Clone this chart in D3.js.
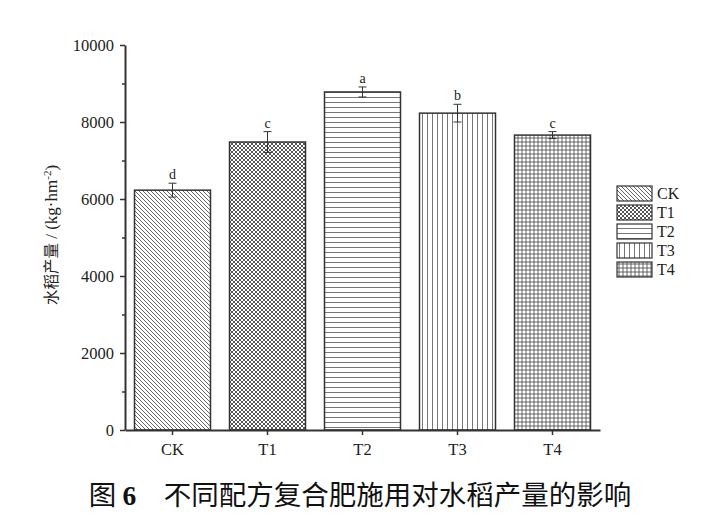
<!DOCTYPE html>
<html>
<head>
<meta charset="utf-8">
<script src="https://cdn.jsdelivr.net/npm/d3@7"></script>
<style>
  body { margin: 0; background: #fff; }
  svg { display: block; }
</style>
</head>
<body>
<svg></svg>
<script>
const svg = d3.select('svg')
    .attr('width', 710)
    .attr('height', 525);

const categories = ['CK', 'T1', 'T2', 'T3', 'T4'];
const yields = [6230, 7480, 8780, 8230, 7660];
const errors = [180, 270, 130, 230, 90];
const letters = ['d', 'c', 'a', 'b', 'c'];
const yTicks = [0, 2000, 4000, 6000, 8000, 10000];
const patternIds = ['pCK', 'pT1', 'pT2', 'pT3', 'pT4'];

const plotLeft = 125, plotRight = 600, plotTop = 45, plotBottom = 430;
const ink = '#333';
const serif = 'Liberation Serif, serif';

const x = d3.scaleBand()
    .domain(categories)
    .range([plotLeft, plotRight])
    .paddingInner(0.2)
    .paddingOuter(0.1);

const y = d3.scaleLinear()
    .domain([0, 10000])
    .range([plotBottom, plotTop]);

// fill patterns
const defs = svg.append('defs');

const p0 = defs.append('pattern').attr('id', 'pCK')
    .attr('patternUnits', 'userSpaceOnUse').attr('width', 4).attr('height', 4);
p0.append('path').attr('d', 'M-1,-1 L5,5 M3,-1 L5,1 M-1,3 L1,5')
    .attr('stroke', '#555').attr('stroke-width', 0.9);

const p1 = defs.append('pattern').attr('id', 'pT1')
    .attr('patternUnits', 'userSpaceOnUse').attr('width', 4).attr('height', 4);
p1.append('path').attr('d', 'M-1,-1 L5,5 M3,-1 L5,1 M-1,3 L1,5 M5,-1 L-1,5 M1,-1 L-1,1 M5,3 L3,5')
    .attr('stroke', '#444').attr('stroke-width', 0.9);

const p2 = defs.append('pattern').attr('id', 'pT2')
    .attr('patternUnits', 'userSpaceOnUse').attr('width', 5).attr('height', 5);
p2.append('line').attr('x1', 0).attr('x2', 5).attr('y1', 2.5).attr('y2', 2.5)
    .attr('stroke', '#666').attr('stroke-width', 0.9);

const p3 = defs.append('pattern').attr('id', 'pT3')
    .attr('patternUnits', 'userSpaceOnUse').attr('width', 5).attr('height', 5);
p3.append('line').attr('y1', 0).attr('y2', 5).attr('x1', 2.5).attr('x2', 2.5)
    .attr('stroke', '#666').attr('stroke-width', 0.9);

const p4 = defs.append('pattern').attr('id', 'pT4')
    .attr('patternUnits', 'userSpaceOnUse').attr('width', 4).attr('height', 4);
p4.append('path').attr('d', 'M0,2 L4,2 M2,0 L2,4')
    .attr('stroke', '#555').attr('stroke-width', 0.9);

// bars
svg.selectAll('rect.bar')
    .data(yields)
    .enter()
    .append('rect')
    .attr('class', 'bar')
    .attr('x', (d, i) => x(categories[i]))
    .attr('y', d => y(d))
    .attr('width', x.bandwidth())
    .attr('height', d => plotBottom - y(d))
    .attr('fill', (d, i) => 'url(#' + patternIds[i] + ')')
    .attr('stroke', ink)
    .attr('stroke-width', 1.5);

// error bars
const cx = i => x(categories[i]) + x.bandwidth() / 2;
const err = svg.append('g').attr('stroke', ink).attr('stroke-width', 1);
yields.forEach((d, i) => {
    const hi = y(d + errors[i]), lo = y(d - errors[i]);
    err.append('line').attr('x1', cx(i)).attr('x2', cx(i)).attr('y1', hi).attr('y2', lo);
    err.append('line').attr('x1', cx(i) - 4).attr('x2', cx(i) + 4).attr('y1', hi).attr('y2', hi);
    err.append('line').attr('x1', cx(i) - 4).attr('x2', cx(i) + 4).attr('y1', lo).attr('y2', lo);
});

// significance letters
svg.selectAll('text.sig')
    .data(letters)
    .enter()
    .append('text')
    .attr('class', 'sig')
    .attr('x', (d, i) => cx(i))
    .attr('y', (d, i) => y(yields[i] + errors[i]) - 4)
    .attr('text-anchor', 'middle')
    .style('font-family', serif)
    .style('font-size', '14px')
    .attr('fill', '#222')
    .text(d => d);

// y axis
svg.append('g')
    .attr('transform', `translate(${plotLeft},0)`)
    .call(d3.axisLeft(y).tickValues(yTicks).tickSize(5).tickSizeOuter(0).tickPadding(6).tickFormat(d3.format('d')));
svg.append('g')
    .attr('transform', `translate(${plotLeft},0)`)
    .call(d3.axisLeft(y).tickValues(d3.range(1000, 10000, 2000)).tickSize(3).tickFormat(''))
    .call(g => g.select('.domain').remove());

// x axis
svg.append('g')
    .attr('transform', `translate(0,${plotBottom})`)
    .call(d3.axisBottom(x).tickSize(5).tickSizeOuter(0).tickPadding(8));

svg.selectAll('.domain').attr('stroke', ink).attr('stroke-width', 2);
svg.selectAll('.tick line').attr('stroke', ink).attr('stroke-width', 1.5);
svg.selectAll('.tick text')
    .style('font-family', serif)
    .style('font-size', '16.5px')
    .attr('fill', '#222');

// y axis title
const yTitle = svg.append('text')
    .attr('transform', `translate(57,235) rotate(-90)`)
    .attr('text-anchor', 'middle')
    .style('font-family', serif)
    .style('font-size', '17px')
    .attr('fill', '#222');
yTitle.append('tspan').style('font-family', 'Noto Sans CJK SC, sans-serif').style('font-size', '15.5px').text('水稻产量');
yTitle.append('tspan').text(' / (kg·hm');
yTitle.append('tspan').attr('dy', -6).style('font-size', '11px').text('-2');
yTitle.append('tspan').attr('dy', 6).text(')');

// legend
const legend = svg.append('g').attr('transform', 'translate(617,186)');
categories.forEach((c, i) => {
    legend.append('rect')
        .attr('x', 0).attr('y', i * 19)
        .attr('width', 35).attr('height', 15)
        .attr('fill', 'url(#' + patternIds[i] + ')')
        .attr('stroke', ink).attr('stroke-width', 1.2);
    legend.append('text')
        .attr('x', 40).attr('y', i * 19 + 13)
        .style('font-family', serif)
        .style('font-size', '16px')
        .attr('fill', '#222')
        .text(c);
});

// caption
const cap = svg.append('text')
    .attr('x', 360).attr('y', 505)
    .attr('text-anchor', 'middle')
    .style('font-family', 'Noto Sans CJK SC, sans-serif')
    .style('font-size', '27.5px')
    .attr('fill', '#111');
cap.append('tspan').text('图 ');
cap.append('tspan').style('font-family', serif).style('font-weight', 'bold').text('6');
cap.append('tspan').text('　不同配方复合肥施用对水稻产量的影响');
</script>
</body>
</html>
